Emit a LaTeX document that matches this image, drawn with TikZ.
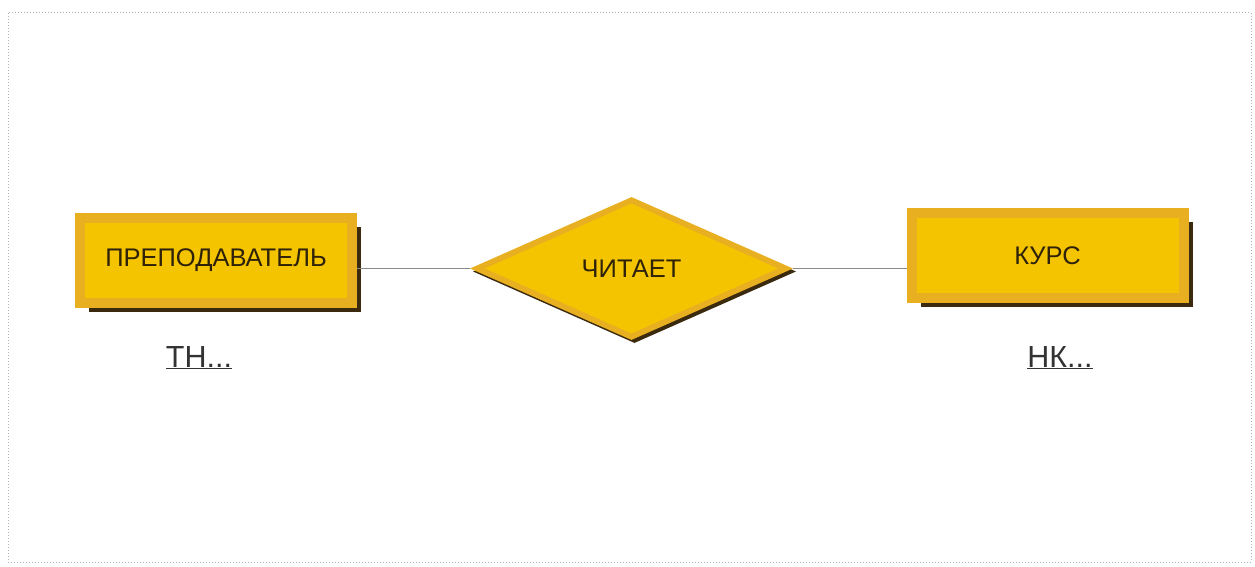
\documentclass[tikz,border=0pt]{standalone}
\usepackage{fontspec}
\setmainfont{Liberation Sans}
\usetikzlibrary{shapes.geometric,shadows}
\definecolor{bandcol}{HTML}{E8B020}
\definecolor{innercol}{HTML}{F5C400}
\definecolor{shadcol}{HTML}{3B2A0E}
\definecolor{txtcol}{HTML}{2E2208}
\definecolor{linecol}{HTML}{8A8A8A}
\definecolor{framecol}{HTML}{B0B0B0}
\begin{document}
\begin{tikzpicture}[x=1pt,y=-1pt,
  entity/.style={rectangle, draw=bandcol, line width=10pt, fill=innercol, inner sep=0pt,
    minimum width=272pt, minimum height=85pt, text=txtcol,
    font=\fontsize{25.5}{29}\selectfont,
    drop shadow={shadow xshift=9pt, shadow yshift=-9pt, fill=shadcol, opacity=1}},
  relout/.style={diamond, fill=bandcol, inner sep=0pt, minimum width=323pt, minimum height=143pt,
    drop shadow={shadow xshift=3pt, shadow yshift=-3pt, fill=shadcol, opacity=1}},
  relin/.style={diamond, fill=innercol, inner sep=0pt, minimum width=293pt, minimum height=130pt,
    text=txtcol, font=\fontsize{25.5}{29}\selectfont},
  conn/.style={draw=linecol, line width=0.8pt},
  keylab/.style={text=black!80, font=\fontsize{30.5}{34}\selectfont, inner sep=0pt}]
\useasboundingbox (0,0) rectangle (1255,567);
\draw[framecol, dotted, line width=1pt] (8,13) rectangle (1251,562);
\node[relout] (rel) at (631.5,268.5) {};
\node[relin] (relt) at (631.5,268.5) {ЧИТАЕТ};
\node[entity] (prep) at (216,260.5) {ПРЕПОДАВАТЕЛЬ};
\node[entity] (kurs) at (1047.5,255.5) {КУРС};
\draw[conn] (rel.west) -- (rel.west -| prep.east);
\draw[conn] (rel.east) -- (rel.east -| kurs.west);
\node[keylab, anchor=base] (tn) at (199,367) {\underline{ТН...}};
\node[keylab, anchor=base] (nk) at (1060,367) {\underline{НК...}};
\end{tikzpicture}
\end{document}
